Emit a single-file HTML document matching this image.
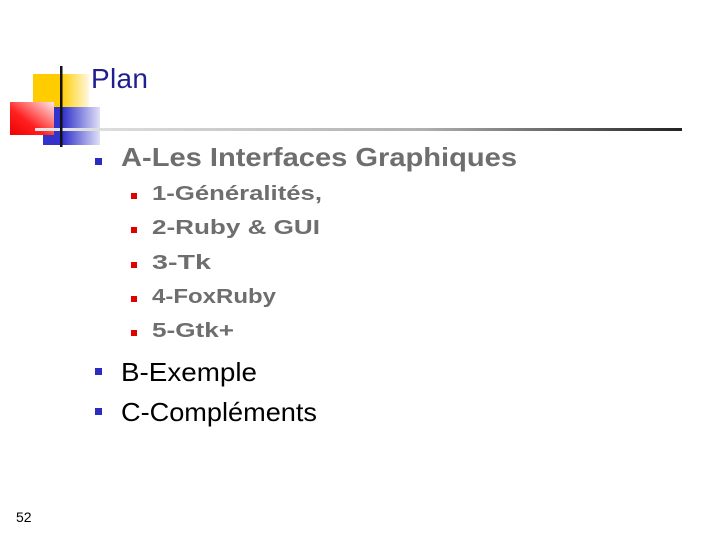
<!DOCTYPE html>
<html><head><meta charset="utf-8"><style>
html,body{margin:0;padding:0;background:#fff;}
svg{display:block;}
</style></head><body>
<svg width="720" height="540" viewBox="0 0 720 540" xmlns="http://www.w3.org/2000/svg">
<defs>
<linearGradient id="gy" x1="0" x2="1" y1="0" y2="0"><stop offset="0" stop-color="#ffcc00"/><stop offset="0.5" stop-color="#ffcc00"/><stop offset="1" stop-color="#fff8dd"/></linearGradient>
<linearGradient id="gb" x1="0" x2="1" y1="0" y2="0"><stop offset="0" stop-color="#3333cc"/><stop offset="0.35" stop-color="#3333cc"/><stop offset="1" stop-color="#e0e0f6"/></linearGradient>
<linearGradient id="gr" x1="0" x2="1" y1="1" y2="0"><stop offset="0" stop-color="#ee0000"/><stop offset="0.4" stop-color="#ff2020"/><stop offset="1" stop-color="#ffe8e8"/></linearGradient>
<linearGradient id="gl" x1="0" x2="1" y1="0" y2="0"><stop offset="0" stop-color="#e6e6e6"/><stop offset="0.6" stop-color="#b0b0b0"/><stop offset="1" stop-color="#222"/></linearGradient>
</defs>
<rect x="33" y="74" width="56" height="33" fill="url(#gy)"/>
<rect x="43" y="107" width="57" height="38" fill="url(#gb)"/>
<rect x="10" y="102" width="44" height="33" fill="url(#gr)"/>
<rect x="35" y="128" width="647" height="3" fill="url(#gl)"/>
<rect x="60" y="66" width="2.5" height="81" fill="#111"/>
<text x="91" y="88" font-family="Liberation Sans, sans-serif" font-size="28" fill="#1f1f8f" textLength="57">Plan</text>
<g fill="#6e6e6e" font-family="Liberation Sans, sans-serif" font-weight="bold">
<rect x="95" y="158" width="7" height="7" fill="#2b2bbf"/>
<text x="121" y="166" font-size="26" textLength="396" lengthAdjust="spacingAndGlyphs">A-Les Interfaces Graphiques</text>
<g fill="#e00000"><rect x="131" y="193" width="6" height="6"/><rect x="131" y="227" width="6" height="6"/><rect x="131" y="262" width="6" height="6"/><rect x="131" y="296" width="6" height="6"/><rect x="131" y="330" width="6" height="6"/></g>
<g font-size="20">
<text x="152" y="200" textLength="170" lengthAdjust="spacingAndGlyphs">1-Généralités,</text>
<text x="152" y="234" textLength="168" lengthAdjust="spacingAndGlyphs">2-Ruby &amp; GUI</text>
<text x="152" y="269" textLength="59" lengthAdjust="spacingAndGlyphs">3-Tk</text>
<text x="152" y="303" textLength="124" lengthAdjust="spacingAndGlyphs">4-FoxRuby</text>
<text x="152" y="337" textLength="82" lengthAdjust="spacingAndGlyphs">5-Gtk+</text>
</g>
</g>
<g font-family="Liberation Sans, sans-serif" font-size="26" fill="#000">
<rect x="95" y="368" width="7" height="7" fill="#2b2bbf"/>
<text x="121" y="381" textLength="136" lengthAdjust="spacingAndGlyphs">B-Exemple</text>
<rect x="95" y="408" width="7" height="7" fill="#2b2bbf"/>
<text x="121" y="421" textLength="196" lengthAdjust="spacingAndGlyphs">C-Compléments</text>
</g>
<text x="16" y="522" font-family="Liberation Sans, sans-serif" font-size="14" fill="#000">52</text>
</svg>
</body></html>
